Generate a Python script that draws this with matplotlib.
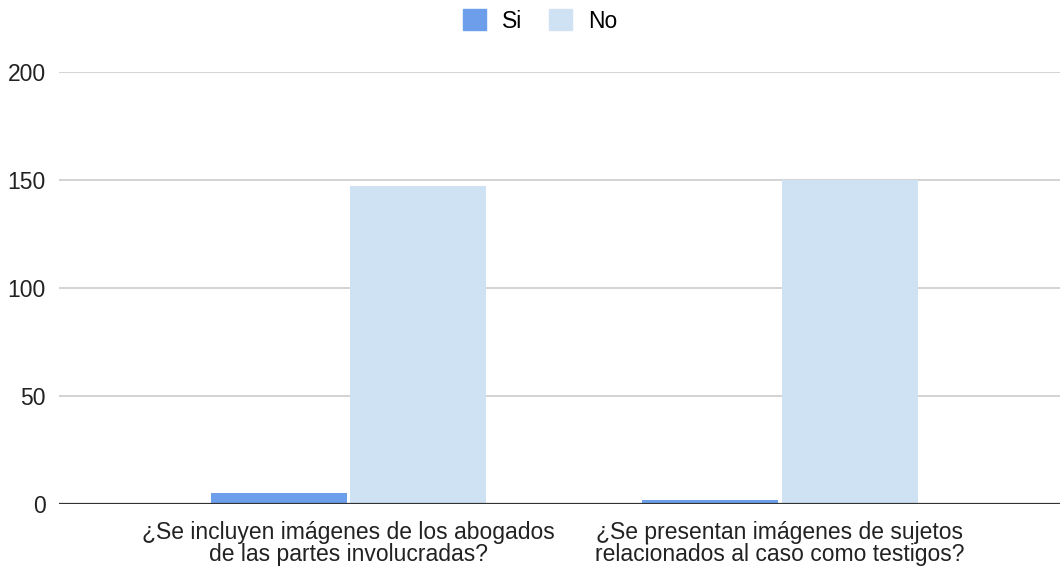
import numpy as np
import matplotlib
matplotlib.use("Agg")
import matplotlib.pyplot as plt
from matplotlib.patches import Patch

categories = ["¿Se incluyen imágenes de los abogados\nde las partes involucradas?",
              "¿Se presentan imágenes de sujetos\nrelacionados al caso como testigos?"]
si_values = [5, 2]
no_values = [147, 150]
series_names = ["Si", "No"]
yticks = [0, 50, 100, 150, 200]

plt.rcParams['font.family'] = ['Liberation Sans', 'DejaVu Sans']
fs = 16.5

fig = plt.figure(figsize=(10.61, 5.69), dpi=100)
ax = fig.add_axes([59 / 1061, 65 / 569, 1001 / 1061, (504 - 72) / 569])

x = np.arange(len(categories))
w = 0.315
off = 0.162
c_si = "#6d9eeb"
c_no = "#cfe2f3"
ax.bar(x - off, si_values, w, color=c_si, zorder=3)
ax.bar(x + off, no_values, w, color=c_no, zorder=3)

ax.set_xlim(-0.671, 1.649)
ax.set_ylim(0, 200)
ax.set_yticks(yticks)
ax.set_yticklabels([str(v) for v in yticks], fontsize=fs, color="#222222")
ax.set_xticks(x)
ax.set_xticklabels(categories, fontsize=fs, color="#222222", linespacing=0.95)
ax.tick_params(axis='both', length=0)
ax.tick_params(axis='y', pad=9.5)
ax.tick_params(axis='x', pad=12)

ax.grid(axis='y', color="#cccccc", linewidth=1.2, zorder=0)
ax.axhline(0, color="#333333", linewidth=1.6, zorder=4)
for s in ax.spines.values():
    s.set_visible(False)

handles = [Patch(color=c_si), Patch(color=c_no)]
fig.legend(handles, series_names, loc='center', bbox_to_anchor=(0.509, 1 - 21 / 569),
           ncol=2, frameon=False, fontsize=fs, handlelength=1.0, handleheight=1.0,
           columnspacing=1.2, handletextpad=0.7)

fig.savefig("out.png", dpi=100)
